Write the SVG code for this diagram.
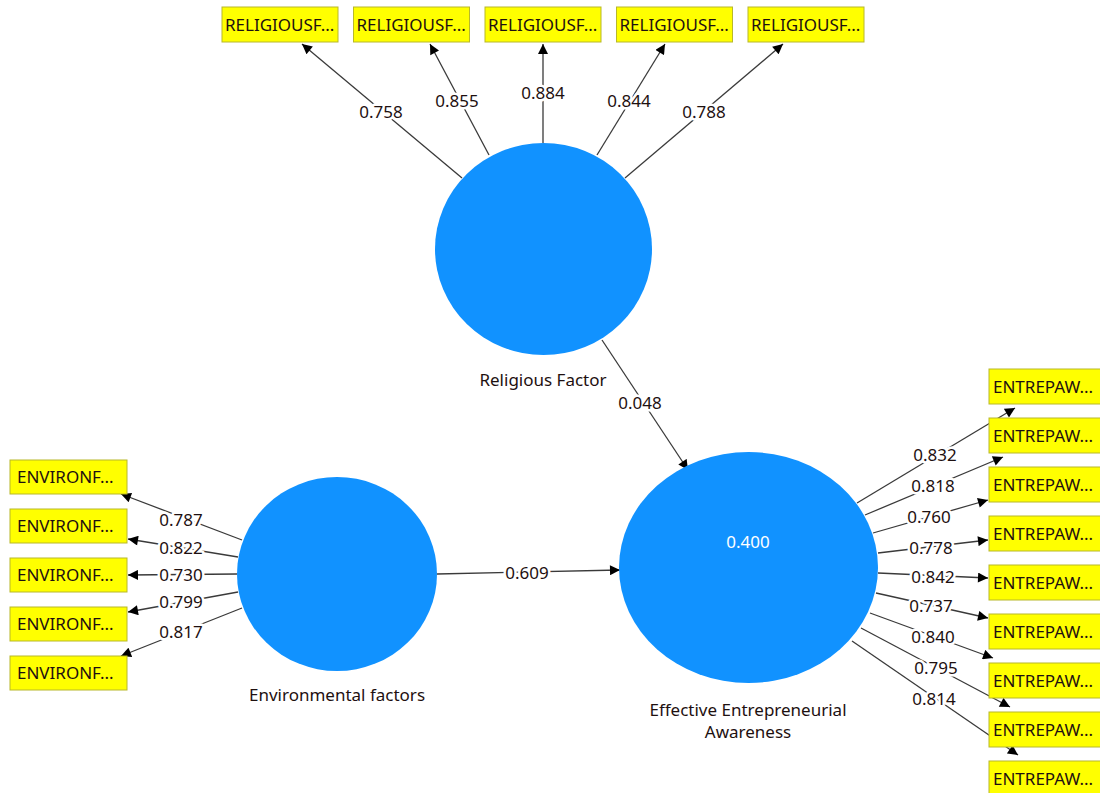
<svg xmlns="http://www.w3.org/2000/svg" width="1100" height="793" viewBox="0 0 1100 793">
<defs>
<marker id="ah" viewBox="0 0 10 10" refX="10" refY="5" markerWidth="11" markerHeight="10" markerUnits="userSpaceOnUse" orient="auto">
<path d="M0,0 L10,5 L0,10 z" fill="#000"/>
</marker>
<style>
.lat{fill:#1192ff}
.ind{fill:#ffff00;stroke:#b8b82a;stroke-width:1}
.it{font-family:"Noto Sans","Liberation Sans",sans-serif;font-size:17px;fill:#1e1010}
.lt{font-family:"Noto Sans","Liberation Sans",sans-serif;font-size:17px;fill:#1e1010;text-anchor:middle}
.val{font-family:"Noto Sans","Liberation Sans",sans-serif;font-size:17px;fill:#1e1010;text-anchor:middle;stroke:#fff;stroke-width:5;paint-order:stroke;stroke-linejoin:round}
.r2{font-family:"Noto Sans","Liberation Sans",sans-serif;font-size:17px;fill:#fff;text-anchor:middle}
.c{stroke:#3a3a3a;stroke-width:1.3;fill:none;marker-end:url(#ah)}
</style>
</defs>
<rect width="1100" height="793" fill="#fff"/>

<g id="connectors">
<line class="c" x1="462" y1="178" x2="302" y2="44"/>
<line class="c" x1="489" y1="155" x2="430" y2="44"/>
<line class="c" x1="543" y1="143" x2="543" y2="44"/>
<line class="c" x1="597" y1="155" x2="665" y2="44"/>
<line class="c" x1="625" y1="178" x2="783" y2="44"/>

<line class="c" x1="242" y1="540" x2="121" y2="494"/>
<line class="c" x1="238" y1="557" x2="128" y2="539"/>
<line class="c" x1="237" y1="574" x2="128" y2="575"/>
<line class="c" x1="238" y1="592" x2="128" y2="612"/>
<line class="c" x1="242" y1="608" x2="121" y2="656"/>

<line class="c" x1="437" y1="574" x2="620" y2="570"/>
<line class="c" x1="602" y1="340" x2="688" y2="470"/>

<line class="c" x1="857" y1="503" x2="1015" y2="408"/>
<line class="c" x1="865" y1="515" x2="1003" y2="457"/>
<line class="c" x1="873" y1="533" x2="988" y2="500"/>
<line class="c" x1="878" y1="553" x2="988" y2="540"/>
<line class="c" x1="878" y1="573" x2="988" y2="578"/>
<line class="c" x1="876" y1="593" x2="988" y2="618"/>
<line class="c" x1="870" y1="613" x2="993" y2="658"/>
<line class="c" x1="861" y1="628" x2="1010" y2="707"/>
<line class="c" x1="852" y1="641" x2="1018" y2="755"/>

<text class="val" x="381" y="118">0.758</text>
<text class="val" x="457" y="107">0.855</text>
<text class="val" x="543" y="99">0.884</text>
<text class="val" x="629" y="107">0.844</text>
<text class="val" x="704" y="118">0.788</text>

<text class="val" x="181" y="526">0.787</text>
<text class="val" x="181" y="554">0.822</text>
<text class="val" x="181" y="581">0.730</text>
<text class="val" x="181" y="608">0.799</text>
<text class="val" x="181" y="638">0.817</text>

<text class="val" x="527" y="579">0.609</text>
<text class="val" x="640" y="409">0.048</text>

<text class="val" x="935" y="461">0.832</text>
<text class="val" x="933" y="492">0.818</text>
<text class="val" x="929" y="523">0.760</text>
<text class="val" x="931" y="554">0.778</text>
<text class="val" x="933" y="583">0.842</text>
<text class="val" x="931" y="612">0.737</text>
<text class="val" x="933" y="643">0.840</text>
<text class="val" x="936" y="674">0.795</text>
<text class="val" x="934" y="705">0.814</text>
</g>

<g id="religious-factor">
<ellipse class="lat" cx="543.5" cy="249" rx="108.5" ry="106"/>
<text class="lt" x="543" y="386">Religious Factor</text>
</g>
<g id="environmental-factors">
<ellipse class="lat" cx="337" cy="574" rx="100" ry="97"/>
<text class="lt" x="337" y="701">Environmental factors</text>
</g>
<g id="effective-entrepreneurial-awareness">
<ellipse class="lat" cx="748.5" cy="567.5" rx="129.5" ry="115.5"/>
<text class="r2" x="748" y="548">0.400</text>
<text class="lt" x="748" y="716">Effective Entrepreneurial</text>
<text class="lt" x="748" y="738">Awareness</text>
</g>

<g id="rf1"><rect class="ind" x="222" y="7" width="116" height="35"/><text class="it" x="225" y="31">RELIGIOUSF...</text></g>
<g id="rf2"><rect class="ind" x="353.5" y="7" width="116" height="35"/><text class="it" x="356.5" y="31">RELIGIOUSF...</text></g>
<g id="rf3"><rect class="ind" x="485" y="7" width="116" height="35"/><text class="it" x="488" y="31">RELIGIOUSF...</text></g>
<g id="rf4"><rect class="ind" x="616.5" y="7" width="116" height="35"/><text class="it" x="619.5" y="31">RELIGIOUSF...</text></g>
<g id="rf5"><rect class="ind" x="748" y="7" width="116" height="35"/><text class="it" x="751" y="31">RELIGIOUSF...</text></g>

<g id="ef1"><rect class="ind" x="10" y="460" width="117" height="34"/><text class="it" x="17" y="483">ENVIRONF...</text></g>
<g id="ef2"><rect class="ind" x="10" y="509" width="117" height="34"/><text class="it" x="17" y="532">ENVIRONF...</text></g>
<g id="ef3"><rect class="ind" x="10" y="558" width="117" height="34"/><text class="it" x="17" y="581">ENVIRONF...</text></g>
<g id="ef4"><rect class="ind" x="10" y="607" width="117" height="34"/><text class="it" x="17" y="630">ENVIRONF...</text></g>
<g id="ef5"><rect class="ind" x="10" y="656" width="117" height="34"/><text class="it" x="17" y="679">ENVIRONF...</text></g>

<g id="ea1"><rect class="ind" x="989" y="369" width="117" height="35"/><text class="it" x="993" y="393">ENTREPAW...</text></g>
<g id="ea2"><rect class="ind" x="989" y="418" width="117" height="35"/><text class="it" x="993" y="442">ENTREPAW...</text></g>
<g id="ea3"><rect class="ind" x="989" y="467" width="117" height="35"/><text class="it" x="993" y="491">ENTREPAW...</text></g>
<g id="ea4"><rect class="ind" x="989" y="516" width="117" height="35"/><text class="it" x="993" y="540">ENTREPAW...</text></g>
<g id="ea5"><rect class="ind" x="989" y="565" width="117" height="35"/><text class="it" x="993" y="589">ENTREPAW...</text></g>
<g id="ea6"><rect class="ind" x="989" y="614" width="117" height="35"/><text class="it" x="993" y="638">ENTREPAW...</text></g>
<g id="ea7"><rect class="ind" x="989" y="663" width="117" height="35"/><text class="it" x="993" y="687">ENTREPAW...</text></g>
<g id="ea8"><rect class="ind" x="989" y="712" width="117" height="35"/><text class="it" x="993" y="736">ENTREPAW...</text></g>
<g id="ea9"><rect class="ind" x="989" y="761" width="117" height="35"/><text class="it" x="993" y="785">ENTREPAW...</text></g>
</svg>
